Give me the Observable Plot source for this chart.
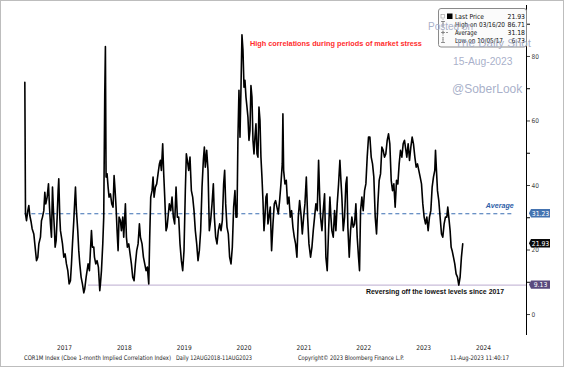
<!DOCTYPE html>
<html><head><meta charset="utf-8">
<script src="https://cdn.jsdelivr.net/npm/d3@7"></script>
<script src="https://cdn.jsdelivr.net/npm/@observablehq/plot@0.6"></script>
<style>
html,body{margin:0;padding:0;background:#fff;}
#chart svg{display:block;}
</style></head><body><div id="chart"></div>
<script>
// ---- data ----
const years = [
2016.338,2016.349,2016.366,2016.388,2016.405,2016.421,2016.444,2016.460,2016.488,2016.516,
2016.533,2016.555,2016.572,2016.599,2016.616,2016.633,2016.655,2016.672,2016.688,2016.711,
2016.733,2016.750,2016.766,2016.783,2016.800,2016.816,2016.833,2016.844,2016.861,2016.878,
2016.894,2016.905,2016.922,2016.933,2016.950,2016.967,2016.989,2017.011,2017.033,2017.056,
2017.078,2017.100,2017.117,2017.134,2017.156,2017.172,2017.184,2017.200,2017.222,2017.239,
2017.256,2017.278,2017.300,2017.323,2017.339,2017.362,2017.378,2017.395,2017.417,2017.434,
2017.451,2017.467,2017.490,2017.501,2017.523,2017.545,2017.567,2017.590,2017.601,2017.618,
2017.640,2017.656,2017.673,2017.684,2017.695,2017.712,2017.729,2017.745,2017.768,2017.790,
2017.812,2017.829,2017.846,2017.862,2017.879,2017.896,2017.912,2017.935,
2017.951,2017.974,2017.990,2018.018,2018.035,2018.051,2018.074,2018.096,2018.118,2018.140,
2018.163,2018.185,2018.207,2018.230,2018.252,2018.269,2018.296,2018.319,2018.341,2018.363,
2018.385,2018.408,2018.424,2018.441,2018.463,2018.480,2018.497,2018.519,2018.541,2018.563,
2018.586,2018.602,2018.619,2018.641,2018.658,2018.675,2018.697,2018.714,2018.730,2018.752,
2018.775,2018.797,2018.819,2018.841,2018.864,2018.886,2018.908,2018.930,2018.953,2018.975,
2018.997,2019.019,2019.036,2019.053,2019.075,2019.097,2019.120,2019.142,2019.164,2019.186,
2019.209,2019.231,2019.253,2019.275,2019.298,2019.320,2019.337,2019.353,2019.376,2019.398,
2019.420,2019.442,2019.465,2019.487,
2019.504,2019.526,2019.548,2019.570,2019.593,2019.615,2019.637,2019.659,2019.676,2019.693,
2019.715,2019.737,2019.759,2019.782,2019.804,2019.826,2019.848,2019.865,2019.882,2019.898,
2019.915,2019.932,2019.949,2019.965,2019.982,2019.999,2020.015,2020.032,2020.049,2020.065,
2020.082,2020.099,2020.115,2020.132,2020.149,2020.166,2020.182,2020.199,2020.216,2020.232,
2020.249,2020.266,2020.282,2020.299,2020.316,2020.333,2020.349,2020.366,2020.383,2020.399,
2020.416,2020.438,2020.460,2020.483,2020.505,2020.527,2020.549,2020.572,2020.594,2020.616,
2020.638,2020.649,2020.661,2020.683,2020.705,2020.727,2020.750,2020.772,2020.794,2020.816,
2020.839,2020.861,2020.883,2020.906,2020.928,2020.950,2020.973,2020.995,2021.017,2021.040,
2021.062,2021.084,
2021.111,2021.134,2021.156,2021.178,2021.200,2021.223,2021.245,2021.262,2021.278,2021.301,
2021.323,2021.345,2021.367,2021.389,2021.412,2021.434,2021.451,2021.467,2021.490,2021.512,
2021.534,2021.556,2021.579,2021.601,2021.618,2021.634,2021.657,2021.679,2021.701,2021.718,
2021.734,2021.757,2021.779,2021.801,2021.823,2021.846,2021.868,2021.890,2021.912,2021.929,
2021.946,2021.968,2021.990,2022.013,2022.035,2022.057,2022.079,2022.102,2022.124,2022.146,
2022.168,2022.191,2022.213,2022.235,2022.257,2022.280,2022.302,2022.324,2022.346,2022.368,
2022.391,2022.413,2022.435,2022.458,2022.480,2022.502,2022.524,2022.547,2022.569,2022.591,
2022.613,2022.636,2022.658,2022.680,
2022.719,2022.741,2022.764,2022.786,2022.808,2022.830,2022.853,2022.875,2022.897,2022.919,
2022.942,2022.964,2022.986,2023.008,2023.031,2023.053,2023.075,2023.097,2023.120,2023.142,
2023.164,2023.186,2023.198,2023.214,2023.231,2023.253,2023.275,2023.298,2023.320,2023.342,
2023.364,2023.387,2023.403,2023.420,2023.442,2023.459,2023.476,2023.498,2023.520,2023.542,
2023.565,2023.587,2023.609,2023.631,2023.653
];
const values = [
72.0,31.2,29.1,32.2,33.8,30.7,28.6,26.6,25.0,19.8,
16.7,17.8,21.9,24.0,29.1,30.2,32.2,37.9,34.3,36.4,
40.5,33.3,28.1,24.0,39.5,32.2,26.0,20.9,22.9,30.2,
38.4,42.1,30.2,26.0,24.0,21.9,17.8,18.8,15.7,13.6,
9.5,10.5,15.7,21.9,29.1,35.3,39.5,32.2,26.0,19.8,
15.7,11.6,9.5,6.73,8.0,11.6,13.6,15.7,13.6,19.8,
26.0,20.9,20.9,17.8,15.7,16.7,14.7,7.4,9.5,13.6,
21.9,30.2,68.4,83.1,42.6,43.6,39.5,36.4,37.4,34.3,
33.3,43.1,38.4,33.3,26.0,19.8,30.2,29.1,
26.0,30.2,24.0,34.3,24.0,20.9,21.9,18.8,15.7,11.6,
10.5,15.7,19.8,21.9,28.1,24.0,21.9,17.8,15.7,13.6,
14.7,9.5,24.0,36.4,38.4,42.6,36.4,39.5,40.5,43.6,
46.7,47.8,44.7,52.9,43.6,36.4,26.0,27.1,30.2,34.3,
32.2,36.4,30.2,28.1,39.5,30.2,30.2,21.9,16.7,13.6,
19.8,38.4,49.8,47.8,44.7,48.8,38.4,36.4,32.2,26.0,
21.9,16.7,19.8,26.0,39.5,47.8,51.9,45.7,50.9,44.7,
26.0,29.1,34.3,40.5,
30.2,24.0,21.9,26.0,28.1,26.0,29.1,40.5,44.7,34.3,
27.1,25.0,17.8,15.7,20.9,33.3,38.4,30.2,30.2,55.0,
69.5,55.0,70.5,86.71,81.9,70.5,72.6,67.4,64.3,61.2,
54.0,57.1,71.0,67.4,54.0,49.8,55.0,59.1,49.8,48.8,
64.3,60.2,48.8,42.6,35.3,26.0,30.2,36.4,37.4,28.1,
30.2,33.3,19.8,28.1,34.3,35.3,33.3,31.2,35.3,40.5,
46.7,62.2,44.7,40.5,41.6,34.3,36.4,30.2,32.2,27.1,
24.0,21.9,17.8,30.2,35.3,31.2,25.0,30.2,34.3,42.6,
30.2,21.9,
17.8,20.9,26.0,30.2,34.3,32.2,47.8,37.4,30.2,26.0,
32.2,37.4,17.8,13.6,26.0,36.4,30.2,26.0,24.0,32.2,
26.0,34.3,40.5,47.8,41.6,36.4,26.0,30.2,40.5,42.6,
27.1,17.8,26.0,30.2,27.1,28.1,34.3,24.0,17.8,13.6,
32.2,36.4,32.2,38.4,40.5,48.8,55.0,55.0,48.8,46.7,
42.6,30.2,25.0,34.3,41.6,43.6,51.9,50.9,48.8,49.8,
54.0,56.0,52.9,41.6,38.4,40.5,33.3,41.6,40.5,46.7,
50.9,48.8,52.9,54.0,
48.8,52.9,47.8,51.9,55.0,52.9,48.8,45.7,46.7,44.7,
42.6,40.5,34.3,30.2,28.1,30.2,26.0,30.2,32.2,39.5,
42.6,44.7,50.9,44.7,38.4,35.3,30.2,25.0,24.0,28.1,
30.2,30.2,33.3,30.2,26.0,20.9,19.8,17.8,15.7,12.6,
11.6,9.13,11.6,17.8,21.93
];
const yearTicks = [2017, 2018, 2019, 2020, 2021, 2022, 2023, 2024];
const yTicksMajor = [0, 20, 40, 60, 80];
const yTicksMinor = [10, 30, 50, 70, 90];
const averageValue = 31.23;
const lowValue = 9.13;
const lastValue = 21.93;
const avgSpan = [2016.338, 2024.48];
const lowSpan = [2017.40, 2024.718];
const xDomain = [2015.965, 2024.718];
const yDomain = [-6.5, 95.8];
const tagLabels = ["31.23", "21.93", "9.13"];
const tagValues = [averageValue, lastValue, lowValue];
const tagColors = ["#4473b0", "#0a0a0a", "#5a4a7e"];
const legendLabels = ["Last Price", "High on 03/16/20", "Average", "Low on 10/05/17"];
const legendLabelWidths = [29, 50, 22, 48];
const legendValues = ["21.93", "86.71", "31.18", "6.73"];
const notes = [
  {text: "High correlations during periods of market stress", x: 2021.535, y: 83.9, color: "#ff2d2d", len: 172},
  {text: "Reversing off the lowest levels since 2017", x: 2023.19, y: 7.0, color: "#111", len: 138},
  {text: "Average", x: 2024.27, y: 33.6, color: "#2f5fa8", len: 28}
];
const footers = [
  {text: "COR1M Index (Cboe 1-month Implied Correlation Index)", x: 24, len: 147},
  {text: "Daily 12AUG2018-11AUG2023", x: 176, len: 76},
  {text: "Copyright\u00A9 2023 Bloomberg Finance L.P.", x: 298, len: 106},
  {text: "11-Aug-2023 11:40:17", x: 450, len: 59}
];
const watermark = [
  {text: "Posted on", x: 428, y: 30, size: 10},
  {text: "The Daily Shot", x: 455, y: 46.5, size: 11.6},
  {text: "15-Aug-2023", x: 453, y: 64.5, size: 10.3},
  {text: "@SoberLook", x: 452, y: 93, size: 12}
];

const series = years.map((y, i) => ({year: y, value: values[i]}));
const narrow = "'Liberation Sans Narrow','DejaVu Sans Condensed','Liberation Sans',sans-serif";

const plot = Plot.plot({
  width: 564,
  height: 367,
  marginTop: 5,
  marginBottom: 32,
  marginLeft: 2,
  marginRight: 38,
  style: {fontFamily: narrow, background: "#fff", overflow: "visible"},
  x: {type: "linear", domain: xDomain},
  y: {domain: yDomain},
  marks: [
    Plot.ruleY([lowValue], {x1: lowSpan[0], x2: lowSpan[1], stroke: "#c9bcd9", strokeWidth: 1.4}),
    Plot.ruleY([averageValue], {x1: avgSpan[0], x2: avgSpan[1], stroke: "#3a6db3", strokeWidth: 1.1, strokeDasharray: "4,3"}),
    Plot.line(series, {x: "year", y: "value", stroke: "#000", strokeWidth: 1.6}),
    Plot.ruleX([xDomain[1]], {stroke: "#000", strokeWidth: 1}),
    Plot.axisY(yTicksMajor, {anchor: "right", tickSize: 3, tickPadding: 2, fontSize: 6.5, color: "#444", label: null}),
    Plot.axisY(yTicksMinor, {anchor: "right", tickSize: 3, tickFormat: () => "", label: null}),
    Plot.axisX(yearTicks, {anchor: "bottom", tickSize: 0, tickPadding: 10, fontSize: 6.5, tickFormat: d => String(d), label: null, color: "#222"}),
    Plot.text(notes.slice(0, 1), {x: "x", y: "y", text: "text", fill: "color", fontSize: 7, fontWeight: "bold", fontFamily: "'Liberation Sans',sans-serif", className: "note0"}),
    Plot.text(notes.slice(1, 2), {x: "x", y: "y", text: "text", fill: "color", fontSize: 7, fontWeight: "bold", fontFamily: "'Liberation Sans',sans-serif", className: "note1"}),
    Plot.text(notes.slice(2, 3), {x: "x", y: "y", text: "text", fill: "color", fontSize: 7, fontWeight: "bold", fontStyle: "italic", fontFamily: "'Liberation Sans',sans-serif", className: "note2"})
  ]
});
document.getElementById("chart").appendChild(plot);

const svg = d3.select(plot);
notes.forEach((n, i) => {
  svg.selectAll(`.note${i} text`).attr("textLength", n.len).attr("lengthAdjust", "spacingAndGlyphs");
});

const xs = plot.scale("x"), ys = plot.scale("y");
const axisX = xs.apply(xDomain[1]);

// value tags on the right axis
tagValues.forEach((v, i) => {
  const cy = ys.apply(v);
  const g = svg.append("g");
  g.append("path")
    .attr("d", `M${axisX + 3},${cy} L${axisX + 5},${cy - 4.2} H${axisX + 24} V${cy + 4.2} H${axisX + 5} Z`)
    .attr("fill", tagColors[i]);
  g.append("text").attr("x", axisX + 14.5).attr("y", cy).attr("dy", "0.35em")
    .attr("text-anchor", "middle").attr("fill", "#fff").attr("font-size", 6.8)
    .attr("font-family", narrow).text(tagLabels[i]);
});

// legend box
const lg = svg.append("g");
lg.append("rect").attr("x", 438.5).attr("y", 8.5).attr("width", 88).attr("height", 38.5)
  .attr("rx", 2.5).attr("fill", "#fbfbfb").attr("stroke", "#8a8a8a").attr("stroke-width", 1);
lg.append("line").attr("x1", 443).attr("x2", 443).attr("y1", 17).attr("y2", 41)
  .attr("stroke", "#999").attr("stroke-width", 0.6).attr("stroke-dasharray", "1,1");
legendLabels.forEach((lab, i) => {
  const cy = 16.5 + i * 8;
  lg.append("text").attr("x", 455).attr("y", cy).attr("dy", "0.35em").attr("font-size", 6.8)
    .attr("text-anchor", "start").attr("font-family", narrow).attr("fill", "#111")
    .attr("textLength", legendLabelWidths[i]).attr("lengthAdjust", "spacingAndGlyphs").text(lab);
  lg.append("text").attr("x", 525).attr("y", cy).attr("dy", "0.35em").attr("font-size", 6.8)
    .attr("text-anchor", "end").attr("font-family", narrow).attr("fill", "#111").text(legendValues[i]);
});
lg.append("rect").attr("x", 441).attr("y", 14.5).attr("width", 3.5).attr("height", 3.5).attr("fill", "#fff").attr("stroke", "#999").attr("stroke-width", 0.6);
lg.append("rect").attr("x", 447).attr("y", 13.5).attr("width", 5.5).attr("height", 5.5).attr("fill", "#000");
lg.append("path").attr("d", "M441,21.5 H445 M443,21.5 V27").attr("stroke", "#666").attr("stroke-width", 0.7).attr("fill", "none");
lg.append("path").attr("d", "M441,32.5 H445 M443,30.5 V34.5 M446,32.5 H448").attr("stroke", "#666").attr("stroke-width", 0.7).attr("fill", "none");
lg.append("path").attr("d", "M443,37 V42.5 M441,42.5 H445").attr("stroke", "#666").attr("stroke-width", 0.7).attr("fill", "none");

// footer
footers.forEach(f => {
  svg.append("text").attr("x", f.x).attr("y", 359.5).attr("font-size", 6.3).attr("font-family", narrow)
    .attr("text-anchor", "start").attr("fill", "#222")
    .attr("textLength", f.len).attr("lengthAdjust", "spacingAndGlyphs").text(f.text);
});

// watermark
watermark.forEach(w => {
  svg.append("text").attr("x", w.x).attr("y", w.y).attr("font-size", w.size)
    .attr("text-anchor", "start").attr("font-family", "'Liberation Sans',Arial,sans-serif")
    .attr("fill", "#a3abc6").attr("fill-opacity", 0.95).text(w.text);
});

// outer border
svg.append("rect").attr("x", 0.5).attr("y", 0.5).attr("width", 563).attr("height", 366)
  .attr("fill", "none").attr("stroke", "#bdbdbd").attr("stroke-width", 1);
</script>
</body></html>
